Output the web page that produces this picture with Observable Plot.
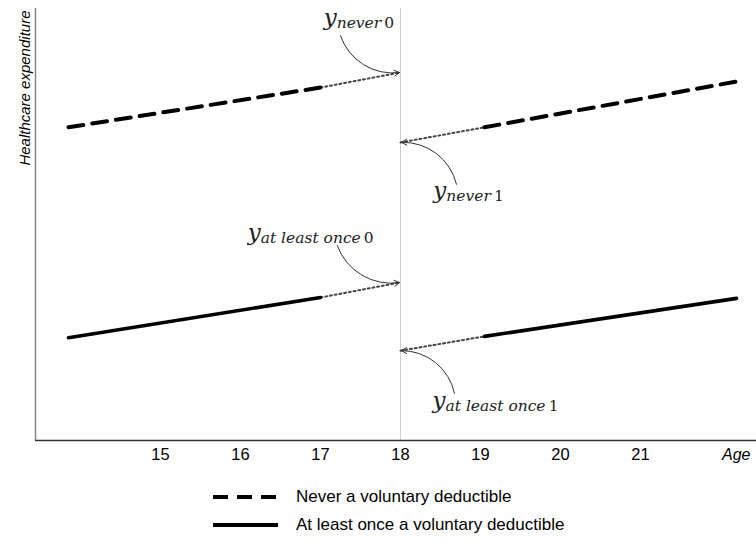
<!DOCTYPE html>
<html><head><meta charset="utf-8">
<script src="https://cdn.jsdelivr.net/npm/d3@7"></script>
<script src="https://cdn.jsdelivr.net/npm/@observablehq/plot@0.6"></script>
<style>
body{margin:0;background:#fff;font-family:"Liberation Sans",Arial,sans-serif;}
#chart svg{display:block;overflow:visible;}
.legend{margin-top:13px;padding-left:213px;}
.legend .row{height:28px;display:flex;align-items:center;font-size:17px;color:#000;}
.legend svg{display:block;margin-right:18px;}
</style></head><body>
<div id="chart"></div>
<div class="legend" id="legend"></div>
<script>
// x axis ticks
const tickAges = [15, 16, 17, 18, 19, 20, 21];
const tickLabels = ["15", "16", "17", "18", "19", "20", "21"];
const xLabel = "Age";
const yLabel = "Healthcare expenditure";
const cutoffAge = 18;
const xDomain = [13.4375, 22.45];
const yDomain = [0, 100];

// Never a voluntary deductible
const neverLeftAge = [13.85, 17];
const neverLeftValue = [72.5, 81.7];
const neverLeftExtAge = [17, 18];
const neverLeftExtValue = [81.7, 85.2];
const neverRightExtAge = [18, 19.05];
const neverRightExtValue = [69.0, 72.5];
const neverRightAge = [19.05, 22.2];
const neverRightValue = [72.5, 83.1];

// At least once a voluntary deductible
const onceLeftAge = [13.85, 17];
const onceLeftValue = [23.8, 33.1];
const onceLeftExtAge = [17, 18];
const onceLeftExtValue = [33.1, 36.6];
const onceRightExtAge = [18, 19.05];
const onceRightExtValue = [20.8, 24.1];
const onceRightAge = [19.05, 22.2];
const onceRightValue = [24.1, 32.9];

// annotations
const annMain = ["y", "y", "y", "y"];
const annSub = ["never", "never", "at least once", "at least once"];
const annIdx = ["0", "1", "0", "1"];
const annTextAge = [17.04, 18.41, 16.09, 18.4];
const annTextValue = [96.1, 56.25, 46.3, 7.6];
const annFromAge = [17.25, 18.7, 17.21, 18.675];
const annFromValue = [93.7, 59.3, 45.1, 10.9];
const annToAge = [18, 18, 18, 18];
const annToValue = [85.2, 69.0, 36.6, 20.8];

const seriesNames = ["Never a voluntary deductible", "At least once a voluntary deductible"];

const pts = (a, v) => a.map((x, i) => ({age: x, value: v[i]}));
const ann = annMain.map((_, i) => i);

const dashed = {x: "age", y: "value", stroke: "#000", strokeWidth: 4, strokeDasharray: "15,9"};
const solid = {x: "age", y: "value", stroke: "#000", strokeWidth: 3.6};
const dotted = {x: "age", y: "value", stroke: "#444", strokeWidth: 2, strokeDasharray: "2,2.8"};

const chart = Plot.plot({
  width: 756,
  height: 470,
  marginLeft: 35,
  marginRight: 0,
  marginTop: 8,
  marginBottom: 30,
  style: {fontFamily: "'Liberation Sans', Arial, sans-serif", color: "#000", background: "#fff"},
  x: {domain: xDomain, axis: null},
  y: {domain: yDomain, axis: null},
  marks: [
    Plot.ruleX([cutoffAge], {stroke: "#cfcfcf", strokeWidth: 1}),
    Plot.ruleX([xDomain[0]], {stroke: "#888", strokeWidth: 1.5}),
    Plot.ruleY([yDomain[0]], {stroke: "#333", strokeWidth: 1.5}),
    Plot.axisX(tickAges, {tickSize: 0, tickPadding: 8, fontSize: 16.5, label: null,
      tickFormat: d => tickLabels[tickAges.indexOf(d)]}),
    Plot.text([xLabel], {text: d => d, frameAnchor: "bottom-right", textAnchor: "end", lineAnchor: "top",
      dx: -6, dy: 8, fontSize: 16, fontStyle: "italic"}),
    Plot.text([yLabel], {text: d => d, frameAnchor: "top-left", rotate: -90, textAnchor: "end",
      dx: -16, dy: 2, fontSize: 15, fontStyle: "italic"}),
    Plot.line(pts(neverLeftExtAge, neverLeftExtValue), dotted),
    Plot.line(pts(neverRightExtAge, neverRightExtValue), dotted),
    Plot.line(pts(onceLeftExtAge, onceLeftExtValue), dotted),
    Plot.line(pts(onceRightExtAge, onceRightExtValue), dotted),
    Plot.line(pts(neverLeftAge, neverLeftValue), dashed),
    Plot.line(pts(neverRightAge, neverRightValue), dashed),
    Plot.line(pts(onceLeftAge, onceLeftValue), solid),
    Plot.line(pts(onceRightAge, onceRightValue), solid),
    Plot.arrow(ann, {
      x1: i => annFromAge[i], y1: i => annFromValue[i],
      x2: i => annToAge[i], y2: i => annToValue[i],
      bend: -40, stroke: "#333", strokeWidth: 1, headLength: 9, insetEnd: 1
    }),
    Plot.text(ann, {
      x: i => annTextAge[i], y: i => annTextValue[i],
      text: i => annMain[i] + "|" + annSub[i] + "|" + annIdx[i],
      textAnchor: "start", lineAnchor: "bottom", fontSize: 22
    })
  ]
});

// style the annotation labels as y with italic subscript and upright index
const NS = "http://www.w3.org/2000/svg";
Array.from(chart.querySelectorAll("text")).filter(t => t.textContent.includes("|")).forEach(t => {
  const parts = t.textContent.split("|");
  while (t.firstChild) t.removeChild(t.firstChild);
  const mk = (txt, size, style, dy) => {
    const s = document.createElementNS(NS, "tspan");
    s.textContent = txt;
    s.setAttribute("font-size", size);
    s.setAttribute("font-style", style);
    s.setAttribute("font-family", "'DejaVu Serif', serif");
    if (dy) s.setAttribute("dy", dy);
    t.appendChild(s);
    return s;
  };
  mk(parts[0], 23, "italic", 0);
  mk(parts[1], 15.5, "italic", 3);
  mk("\u2009" + parts[2], 15.5, "normal", 0);
  t.setAttribute("fill", "#222");
});

document.getElementById("chart").appendChild(chart);

// legend
const legend = d3.select("#legend");
const dashes = ["15,9", null];
seriesNames.forEach((name, i) => {
  const row = legend.append("div").attr("class", "row");
  const s = row.append("svg").attr("width", 65).attr("height", 10);
  s.append("line").attr("x1", 0).attr("x2", 65).attr("y1", 5).attr("y2", 5)
    .attr("stroke", "#000").attr("stroke-width", 4)
    .attr("stroke-dasharray", dashes[i]);
  row.append("span").text(name);
});
</script>
</body></html>
